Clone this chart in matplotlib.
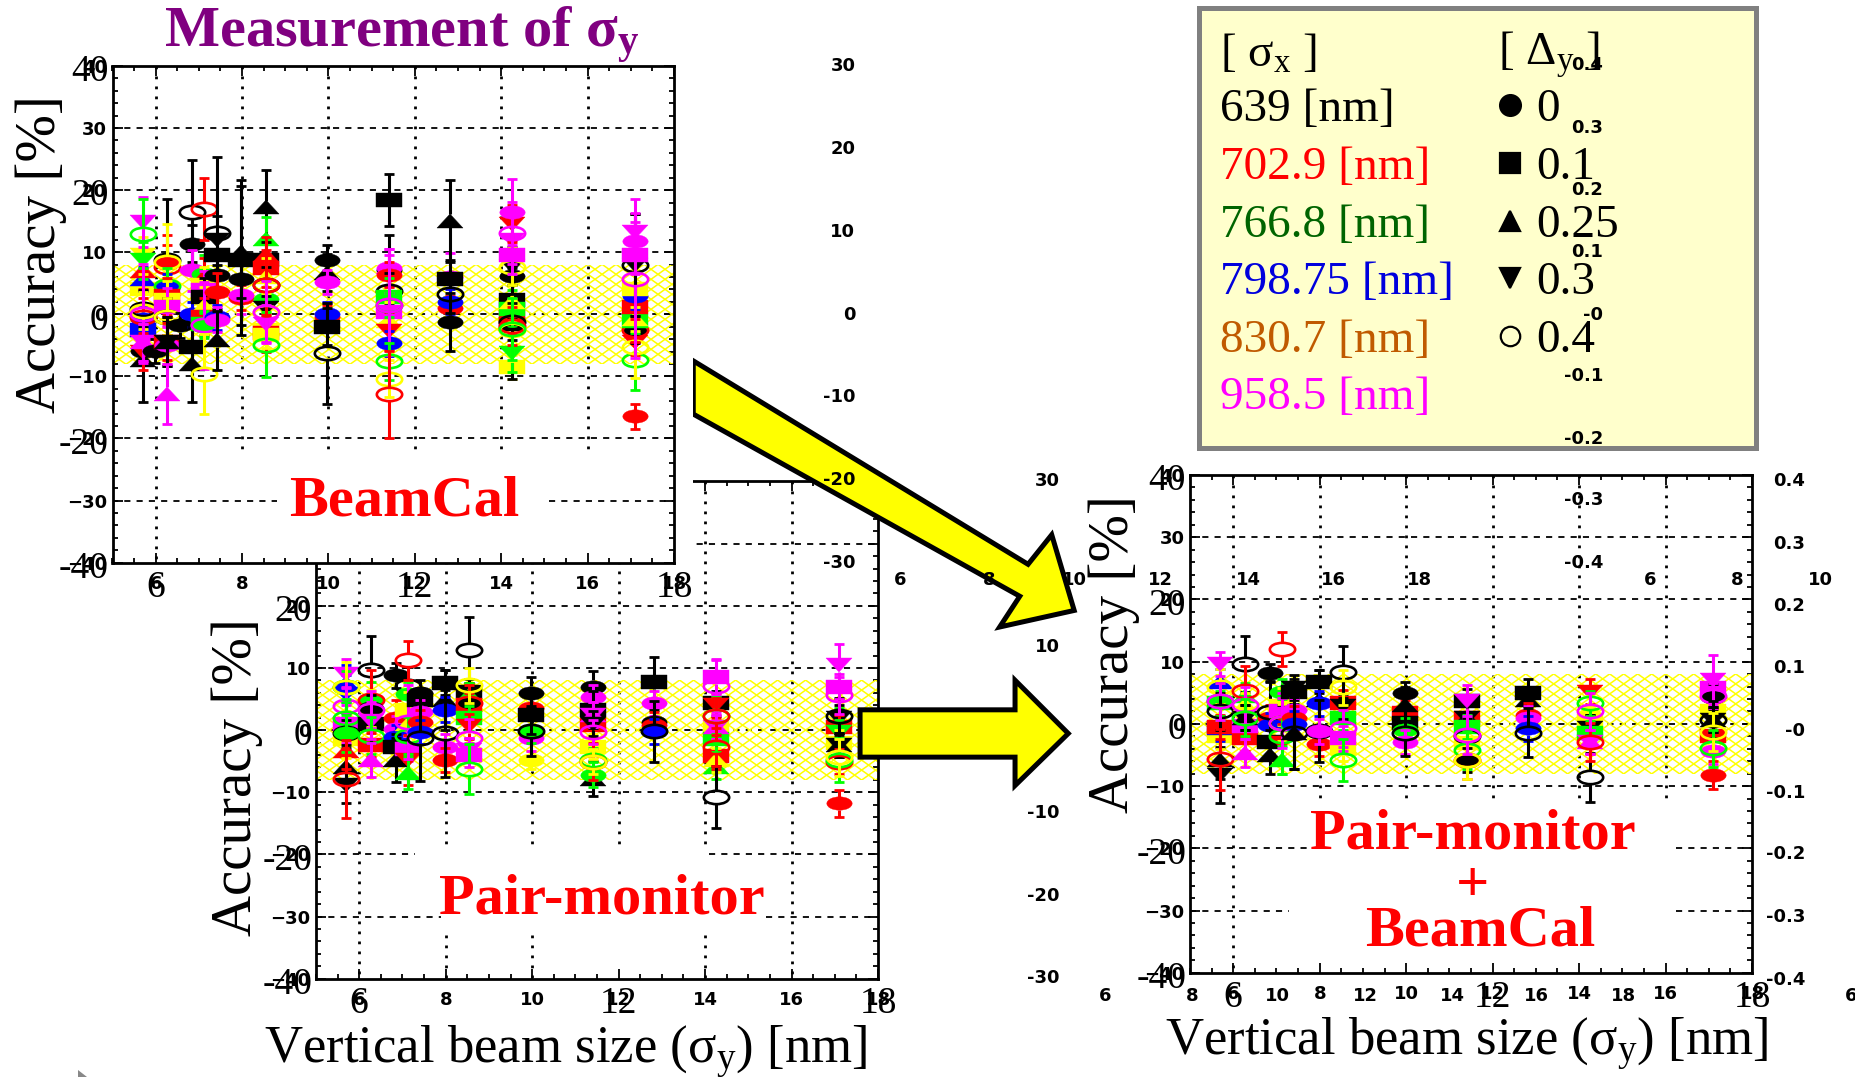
import matplotlib
matplotlib.use("Agg")
import matplotlib.pyplot as plt
from matplotlib.markers import MarkerStyle
from matplotlib.patches import Rectangle, Polygon
from matplotlib.transforms import Affine2D

W, H = 1855, 1077
S = 1855 / 1568  # the picture coordinates below are read at 1568 wide
plt.rcParams['font.family'] = ['Liberation Serif', 'DejaVu Sans']
plt.rcParams['mathtext.fontset'] = 'custom'
plt.rcParams['mathtext.rm'] = 'Liberation Serif'
plt.rcParams['mathtext.it'] = 'Liberation Serif'
plt.rcParams['mathtext.bf'] = 'Liberation Serif:bold'

SIGMA_X = [639, 702.9, 766.8, 798.75, 830.7, 958.5]
DELTA_Y = [0, 0.1, 0.25, 0.3, 0.4]
SIGMA_X_COLORS = ['black', '#ff0000', '#00ff00', '#0000ff', '#ffff00', '#ff00ff']
LEGEND_COLORS = ['black', '#ff0000', '#006400', '#0000dd', '#c05a00', '#ff00ff']
LEGEND_MARKS = ['o', 's', '^', 'v', 'o']
BAND = 8

# points are (sigma_x, delta_y, accuracy, error), in drawing order
BC_570 = [(639, .25, -7.4, 6.7), (639, 0, -5.9, 2), (830.7, .1, 4.1, 3), (798.75, .25, 5.7, 2),
          (702.9, .25, 7, 3), (798.75, .1, -2.6, 2), (798.75, 0, -0.7, 2), (702.9, .4, -0.4, 3),
          (639, .4, .9, 3), (830.7, .4, .6, 3), (702.9, .3, -6, 3), (830.7, .3, 9.5, 3),
          (766.8, .3, 8.7, 3), (958.5, .25, -4.5, 3), (958.5, .3, -4.5, 3), (958.5, .3, 14.9, 4),
          (766.8, .4, 13, 5.6), (958.5, .4, .1, 8)]
BC_597 = [(639, 0, -5.9, 2)]
BC_627 = [(639, .4, 8.7, 9.8), (702.9, .4, 7.7, 5), (702.9, 0, 8.2, 3), (830.7, .4, 8.4, 6.2),
          (798.75, 0, 4.5, 2), (766.8, .4, 4.5, 3), (702.9, .1, 2.9, 3), (830.7, .1, 2.3, 3),
          (958.5, .1, 1.2, 3), (639, .4, -.4, 3), (830.7, .4, -.4, 3), (702.9, .1, -4.4, 3),
          (958.5, 0, -5, 3), (639, .25, -4.4, 4), (639, .3, -4.4, 4), (958.5, .25, -12.8, 4.8)]
BC_656 = [(639, 0, -1.8, 2)]
BC_684 = [(639, .4, 16.4, 8.5), (639, 0, 11.4, 3), (798.75, 0, 0, 2), (958.5, 0, 7.1, 3.3),
          (639, .1, -5.2, 3), (639, .25, -8, 6.2)]
BC_712 = [(702.9, .4, 17, 5), (766.8, 0, 6.5, 3), (702.9, .25, 6, 3), (830.7, .1, 4.7, 3),
          (958.5, .1, 3.9, 3), (639, .1, 2.8, 3), (830.7, .25, 1.4, 3), (702.9, .1, -.4, 3),
          (766.8, .1, -1.5, 2), (766.8, .4, -1.8, 2), (958.5, .4, -1.8, 7), (830.7, .4, -9.6, 6.5)]
BC_741 = [(639, .4, 13.1, 12.3), (639, .3, 11.9, 4), (639, .1, 9.5, 3), (639, 0, 6.3, 3),
          (702.9, 0, 3.6, 3), (798.75, 0, -.5, 2), (958.5, 0, -.9, 2), (639, .25, -4.2, 4.8)]
BC_798 = [(702.9, 0, 2.7, 2), (958.5, 0, 3.1, 3), (639, 0, 5.7, 3), (639, .1, 8.7, 12),
          (639, .25, 10, 11.7)]
BC_855 = [(639, .25, 17.3, 6), (766.8, .25, 12.2, 3.5), (639, .1, 8.7, 3), (702.9, .25, 9.5, 3),
          (702.9, .1, 7.4, 3), (830.7, .25, 6, 3), (639, .4, 4.7, 3), (766.8, 0, 2.5, 3),
          (639, .3, 1, 2), (830.7, .1, -2.6, 3), (702.9, .1, -3, 3), (830.7, .1, -3.4, 2),
          (830.7, .4, .4, 3), (958.5, .3, -1.5, 3), (766.8, .4, -4.9, 5.2), (702.9, .4, 4.7, 5),
          (958.5, .4, .4, 5)]
BC_998 = [(639, 0, 8.7, 2.4), (639, .25, 6.7, 3), (958.5, 0, 5.2, 2), (702.9, 0, -.5, 2),
          (798.75, 0, 0, 2), (639, .1, -2, 3), (639, .4, -6.3, 8.2)]
BC_1140 = [(639, .1, 18.4, 4.2), (639, 0, 7.2, 5.5), (958.5, .25, 7.6, 3), (958.5, 0, 7.5, 3),
           (702.9, 0, 6.4, 2), (639, .4, 3.7, 3), (766.8, .1, 2.8, 3), (830.7, .25, -1, 3),
           (958.5, .1, .4, 3), (702.9, .3, -2.7, 3), (798.75, 0, -4.7, 2), (766.8, .4, 1.5, 2),
           (958.5, .4, 1.5, 8), (766.8, .4, -7.6, 3), (830.7, .4, -10.4, 3), (702.9, .4, -12.9, 7)]
BC_1283 = [(958.5, 0, 6, 3.8), (639, .1, 5.7, 3), (639, .25, 15.1, 6.6), (702.9, 0, 1, 2),
           (798.75, 0, 2, 2), (639, .4, 3.2, 3), (639, 0, -1.2, 4.7)]
BC_1425 = [(830.7, .1, -8.5, 2), (639, .1, -1.5, 9), (766.8, .3, -6.3, 3), (702.9, .1, -.4, 3),
           (639, .1, 2.3, 3), (766.8, .1, .9, 3), (830.7, .25, 2, 3), (639, 0, 6.2, 3),
           (639, .3, 7.8, 3), (830.7, .4, 7.7, 3), (958.5, .1, 9.5, 3), (958.5, .3, 11.9, 3),
           (702.9, .3, 14.6, 3), (958.5, 0, 16.5, 5.3), (958.5, .4, 13.1, 5), (639, .4, -1.2, 3),
           (702.9, .4, -1.9, 3), (830.7, .4, -2.5, 5), (766.8, .4, -2.3, 5)]
BC_1710 = [(702.9, 0, -16.4, 2), (766.8, .4, -7.3, 4.9), (702.9, .3, -4.5, 2), (830.7, .4, -5.3, 5),
           (639, 0, -2.6, 2), (702.9, .4, -2.5, 2), (766.8, .1, -1, 2), (830.7, .25, -.7, 2),
           (702.9, .1, 1.2, 2), (798.75, 0, 2.9, 2), (830.7, .1, 4.1, 3), (639, .3, 8, 8.2),
           (639, .4, 8, 8.2), (958.5, .1, 9.5, 3), (958.5, 0, 11.8, 3), (958.5, .3, 13.3, 3),
           (958.5, .4, 5.7, 12.8)]

PM_570 = [(639, .3, -8.8, 3), (639, .25, -5.9, 3), (702.9, .25, -3.3, 3), (830.7, .1, -1.5, 3),
          (798.75, .25, 7.5, 3), (798.75, .3, 5.8, 3), (958.5, .1, 1, 3), (958.5, .3, 9.1, 2.3),
          (766.8, .4, 7, 2.5), (830.7, .4, 7, 4), (958.5, .4, 3.9, 3), (766.8, .4, 2, 3),
          (639, .4, -.4, 2), (766.8, 0, -.5, 3), (702.9, .4, -7.9, 6.3)]
PM_627 = [(639, .4, 9.6, 5.5), (702.9, .1, -2.4, 2), (639, .1, 1, 3), (766.8, 0, 4.8, 3),
          (702.9, .4, 4.8, 4.8), (830.7, .25, 3.5, 3), (639, 0, 3.6, 2), (958.5, .3, 1.5, 3),
          (958.5, .4, 3.3, 3), (766.8, .4, -.9, 3), (958.5, .25, -4.8, 2.7)]
PM_684 = [(639, 0, 8.8, 2), (702.9, 0, 1.9, 3), (958.5, 0, .2, 2), (798.75, 0, -1.1, 2),
          (639, .1, -2.7, 2), (639, .25, -4.8, 3.6)]
PM_712 = [(639, .4, 7.1, 3), (766.8, 0, 5.8, 2), (830.7, .1, 3.2, 3), (830.7, .25, 1, 2),
          (958.5, .1, -3, 2), (702.9, .3, -4.8, 4), (766.8, .25, -6.9, 2.5), (702.9, .4, 11.2, 3.2),
          (766.8, .4, -.9, 3), (958.5, .4, 1.3, 6)]
PM_741 = [(639, 0, 6, 2), (639, .1, 4.8, 2), (958.5, 0, 2.9, 2), (702.9, 0, 1.3, 2),
          (798.75, 0, -.3, 2), (639, .4, -1.3, 6.9)]
PM_798 = [(639, .1, 7.6, 2), (639, .25, 4.8, 4.8), (798.75, 0, 3.3, 2), (958.5, 0, -2.7, 2),
          (702.9, 0, -4.8, 2), (639, .4, -.5, 7)]
PM_855 = [(639, .4, 12.9, 5.3), (639, .1, 6.2, 2), (766.8, .25, 5.6, 2), (702.9, .1, 4, 2),
          (639, 0, 4.3, 2), (702.9, .4, 4.3, 3), (766.8, .1, 1.9, 2), (702.9, .3, .6, 2),
          (830.7, .4, 7.2, 2.8), (958.5, .1, -4, 2), (958.5, .25, -3.2, 2), (958.5, .3, -3.2, 2),
          (958.5, .4, -1.2, 3), (766.8, .4, -6.3, 4)]
PM_998 = [(830.7, 0, -4.8, 1.5), (702.9, 0, 3.6, 2), (639, 0, 6, 2.5), (958.5, 0, -1.3, 2),
          (766.8, 0, -.1, 2), (639, .1, 2.4, 3), (639, .4, -.1, 4)]
PM_1140 = [(639, .25, -7.8, 2.8), (766.8, 0, -7.2, 2), (830.7, .1, -2.7, 2), (702.9, .1, .8, 2),
           (639, 0, 7, 2.5), (958.5, 0, 5.3, 2), (639, .1, 3.3, 3), (958.5, .25, 2.5, 2),
           (958.5, .3, 2.5, 2), (639, .3, 1, 2), (766.8, .4, -4.8, 2), (702.9, .4, -5.1, 3),
           (830.7, .4, -5.1, 2), (958.5, .4, -.3, 2)]
PM_1283 = [(639, .1, 7.7, 4), (958.5, 0, 4.3, 2), (639, 0, 1.3, 2), (702.9, 0, .9, 2),
           (798.75, 0, -.2, 2), (639, .4, -.2, 4.9)]
PM_1425 = [(766.8, .25, -5.9, 2), (702.9, .1, -4.2, 2), (830.7, .25, -4.8, 2), (639, .4, -10.7, 5),
           (639, .1, 4.3, 2), (702.9, .3, 4, 2), (830.7, .1, .5, 2), (766.8, .1, -1.5, 2),
           (958.5, .25, .5, 2), (958.5, .3, .5, 2), (702.9, .4, -2.7, 3), (958.5, .1, 8.5, 2.9),
           (958.5, .4, 7.1, 4.2), (766.8, .4, 2.3, 3), (702.9, .4, 2.2, 3)]
PM_1710 = [(702.9, 0, -11.8, 2.2), (766.8, .25, 1.5, 2), (639, .3, 2, 2), (702.9, .1, .5, 2),
           (766.8, .3, -.3, 2), (830.7, .1, -2, 2), (639, .25, -2.4, 2), (639, .3, -2.4, 2),
           (702.9, .4, -5.1, 2), (766.8, .4, -4.8, 3.6), (830.7, .4, -4.4, 3), (639, .4, 2.2, 3),
           (958.5, .1, 7, 2), (958.5, .3, 10.4, 3.4), (958.5, .4, 5.6, 3)]

SUM_570 = [(639, .3, -8.2, 4.5), (639, .25, -5.8, 3), (830.7, .1, -2, 2), (798.75, .1, -.7, 2),
           (702.9, .1, -.5, 2), (766.8, .1, 3.3, 2), (798.75, .25, 6.8, 2), (830.7, .4, 6, 2.8),
           (766.8, .4, 3.6, 3), (639, .4, 2, 3), (958.5, .4, 3.6, 3), (958.5, .3, 9.6, 1.9),
           (702.9, .4, -5.7, 4.9)]
SUM_627 = [(702.9, .1, -2.3, 2), (958.5, .1, -.4, 2), (639, .4, 9.6, 4.5), (766.8, .25, 4.5, 2),
           (702.9, .4, 5.3, 4), (830.7, .25, 3, 2), (639, .25, 1, 2), (639, .3, 1, 2),
           (958.5, .4, 3, 3), (766.8, .4, 1, 3), (958.5, .25, -4.7, 2.3)]
SUM_684 = [(639, 0, 8.2, 1.5), (702.9, 0, 1, 2), (798.75, 0, -.2, 2), (639, .4, 1.9, 5),
           (639, .1, -2.9, 2), (639, .25, -5, 3)]
SUM_712 = [(702.9, .4, 12, 2.7), (766.8, 0, 5.2, 2), (830.7, .1, 2.8, 3), (958.5, .1, 2, 3),
           (702.9, .3, -3, 3), (639, .4, .1, 3), (830.7, .4, .2, 3), (766.8, .25, -5.8, 2.2),
           (766.8, .4, -2, 6), (958.5, .4, .1, 4)]
SUM_741 = [(639, .1, 5.2, 2), (639, .3, 5.8, 2), (958.5, 0, 2.2, 2), (702.9, 0, .9, 2),
           (798.75, 0, 0, 2), (639, .25, -1.5, 5.8), (639, .4, -1.5, 5.8)]
SUM_798 = [(639, .1, 6.8, 1.8), (639, .25, 3.8, 4.8), (798.75, 0, 3.3, 2), (702.9, 0, -3.2, 2),
           (639, .4, -1.1, 5), (958.5, 0, -1.2, 2)]
SUM_855 = [(830.7, .1, -3.9, 2), (702.9, .1, 3.4, 2), (639, .4, 8.3, 4.2), (766.8, .1, 1, 2),
           (639, .3, 2.8, 2), (830.7, .4, 5.9, 2.8), (958.5, .1, -2.3, 2), (958.5, .4, -.7, 3),
           (766.8, .4, -5.8, 3.3)]
SUM_998 = [(702.9, .1, 1.8, 2), (639, 0, 4.9, 1.8), (639, .25, 3, 3), (639, .1, .1, 3),
           (766.8, 0, -1, 2), (958.5, 0, -2.9, 2), (639, .4, -1.4, 3.8)]
SUM_1140 = [(702.9, .1, 1, 2), (830.7, .1, -3, 2), (639, .1, 3.6, 2), (639, .25, .9, 2),
            (639, .3, .9, 2), (766.8, .1, -.5, 2), (958.5, .3, 3.6, 2.6), (639, .4, -2, 3),
            (766.8, .4, -4.2, 3), (639, 0, -5.8, 2), (702.9, .4, -5.8, 3), (830.7, .4, -5.8, 3),
            (958.5, .4, -1.8, 3)]
SUM_1283 = [(639, .25, 3.8, 2), (639, .1, 5, 2.2), (702.9, 0, 1.4, 2), (958.5, 0, .9, 2),
            (798.75, 0, -.7, 2), (639, .4, -1.4, 3.9)]
SUM_1425 = [(702.9, .3, 5.2, 2), (639, .4, -8.6, 4), (830.7, .25, 2.5, 2), (830.7, .1, .5, 2),
            (639, .25, -.6, 2), (639, .3, -.6, 2), (766.8, .1, -1.5, 2), (958.5, .25, -2.9, 2),
            (958.5, .3, -2.9, 2), (702.9, .4, -2.9, 3), (766.8, .4, 3.3, 2), (958.5, .4, 2, 3)]
SUM_1710 = [(702.9, 0, -8.2, 2.2), (830.7, .1, 2, 2), (702.9, .1, -2, 2), (766.8, .25, 6, 2),
            (958.5, .1, 5.7, 2), (639, 0, 4.4, 2), (958.5, .3, 7, 4), (958.5, .4, 4.5, 2),
            (639, .25, .7, 2), (639, .3, .7, 2), (639, .4, .7, 3), (958.5, 0, -4.4, 2),
            (766.8, .4, -3.9, 3), (830.7, .4, -1.3, 3)]

BEAMCAL = {5.7: BC_570, 5.985: BC_597, 6.27: BC_627, 6.555: BC_656, 6.84: BC_684, 7.125: BC_712,
           7.41: BC_741, 7.98: BC_798, 8.55: BC_855, 9.975: BC_998, 11.4: BC_1140, 12.825: BC_1283,
           14.25: BC_1425, 17.1: BC_1710}
PAIRMON = {5.7: PM_570, 6.27: PM_627, 6.84: PM_684, 7.125: PM_712, 7.41: PM_741, 7.98: PM_798,
           8.55: PM_855, 9.975: PM_998, 11.4: PM_1140, 12.825: PM_1283, 14.25: PM_1425, 17.1: PM_1710}
COMBINED = {5.7: SUM_570, 6.27: SUM_627, 6.84: SUM_684, 7.125: SUM_712, 7.41: SUM_741, 7.98: SUM_798,
            8.55: SUM_855, 9.975: SUM_998, 11.4: SUM_1140, 12.825: SUM_1283, 14.25: SUM_1425,
            17.1: SUM_1710}

X_TICKS = [6, 8, 10, 12, 14, 16, 18]
Y_TICKS = [-40, -30, -20, -10, 0, 10, 20, 30, 40]
BIG_X = [6, 12, 18]
BIG_Y = [-40, -20, 0, 20, 40]


def figx(px):
    return px / W


def figy(py):
    return 1 - py / H


def label(x, y, s, **kw):
    """x, y in the 1568-wide picture."""
    fig.text(figx(x * S), figy(y * S), s, **kw)


def small(x, y, s, ha='center'):
    label(x, y, s, ha=ha, va='center', fontsize=13, fontweight='bold',
          family='DejaVu Sans', color='black', zorder=6)


def marker_for(delta):
    base = {0: 'o', .1: 's', .25: '^', .3: 'v', .4: 'o'}[delta]
    return MarkerStyle(base, transform=Affine2D().scale(1.9, 1))


def add_axes(box, zorder):
    l, t, r, b = box
    ax = fig.add_axes([l / W, 1 - b / H, (r - l) / W, (b - t) / H], zorder=zorder)
    ax.set_xlim(5, 18)
    ax.set_ylim(-40, 40)
    ax.set_xticks(X_TICKS)
    ax.set_yticks(Y_TICKS)
    ax.set_xticks([5 + .5 * i for i in range(27)], minor=True)
    ax.set_yticks([-40 + 2 * i for i in range(41)], minor=True)
    for lab_set in (ax.get_xticklabels(), ax.get_yticklabels()):
        for t_ in lab_set:
            t_.set_fontfamily('DejaVu Sans')
            t_.set_fontweight('bold')
            t_.set_fontsize(13)
    ax.tick_params(which='major', direction='in', top=True, right=True, length=7.5, width=1.3)
    ax.tick_params(which='minor', direction='in', top=True, right=True, length=3.8, width=1.3)
    ax.tick_params(axis='x', which='major', pad=9)
    ax.tick_params(axis='y', which='major', pad=4)
    for sp in ax.spines.values():
        sp.set_linewidth(2)
        sp.set_zorder(60)
    return ax


def draw_band(ax):
    """Yellow cross-hatched band, cells about 14 x 10 pixels as in the reference."""
    bbox = ax.get_position()
    cell_x = 14 / (bbox.width * W) * 13
    cell_y = 10 / (bbox.height * H) * 80
    clip = Rectangle((5, -BAND), 13, 2 * BAND, transform=ax.transData)
    rise = 2 * BAND / cell_y * cell_x
    for i in range(-60, 60):
        x0 = 5 + i * cell_x
        for ya, yb in ((-BAND, BAND), (BAND, -BAND)):
            ln, = ax.plot([x0, x0 + rise], [ya, yb], color='#ffff00', lw=1.1, zorder=2)
            ln.set_clip_path(clip)
    ax.set_xlim(5, 18)
    ax.set_ylim(-40, 40)


def decorate(ax, vgrid, hgrid):
    for x, y0, y1 in vgrid:
        ax.plot([x, x], [y0, y1], color='black', lw=2, ls=(0, (1, 2.6)), zorder=1)
    for y, x0, x1 in hgrid:
        ax.plot([x0, x1], [y, y], color='black', lw=1.3, ls=(0, (3.4, 3.4)), zorder=1)
    draw_band(ax)
    for v in BIG_Y:
        ax.annotate(str(v), (5, v), xytext=(-4, -6), textcoords='offset pixels', ha='right',
                    va='center', fontsize=27, annotation_clip=False, zorder=50)
    for v in BIG_X:
        ax.annotate(str(v), (v, -40), xytext=(0, -25), textcoords='offset pixels', ha='center',
                    va='center', fontsize=27, annotation_clip=False, zorder=50)


def draw_points(ax, table):
    z = 3.0
    hw = 1.02  # half marker height, in percent: the error bar stops there
    for x, pts in table.items():
        for sx, d, y, e in pts:
            z += .01
            c = SIGMA_X_COLORS[SIGMA_X.index(sx)]
            opened = d == .4
            ax.plot([x], [y], ls='none', marker=marker_for(d), ms=9.6, mfc='none' if opened else c,
                    mec=c, mew=1.9 if opened else .3, zorder=z, clip_on=True)
            ax.vlines([x, x], [y + hw, y - e], [y + e, y - hw], colors=c, lw=2.2, zorder=z)
            ax.plot([x, x], [y + e, y - e], ls='none', marker='_', ms=6.5, mew=2, color=c, zorder=z)


fig = plt.figure(figsize=(W / 100, H / 100), dpi=100, facecolor='white')

ax1 = add_axes((112.5, 66, 674, 562.6), 3)
ax2 = add_axes((316, 481.5, 878, 978.7), 1)
ax3 = add_axes((1190, 475, 1752, 972.8), 1)

decorate(ax1,
         [(6, 40, -40), (8, 40, -22), (10, 40, -22), (12, 40, -22), (14, 40, -22), (16, 40, -22)],
         [(30, 5, 18), (20, 5, 18), (10, 5, 18), (0, 5, 18), (-10, 5, 18), (-20, 5, 18),
          (-30, 5, 8.8), (-30, 15.1, 18)])
decorate(ax2,
         [(6, 40, -40), (8, 40, -19), (8, -33, -40), (10, 40, -19), (10, -33, -40), (12, 40, -19),
          (14, 40, -19), (14, -33, -40), (16, 40, -40)],
         [(30, 5, 18), (20, 5, 18), (10, 5, 18), (0, 5, 18), (-10, 5, 18), (-20, 5, 7.3),
          (-20, 14.1, 18), (-30, 5, 7.9), (-30, 15.4, 18)])
decorate(ax3,
         [(6, 40, -40), (8, 40, -13), (10, 40, -13), (12, 40, -13), (14, 40, -13), (16, 40, -13)],
         [(30, 5, 18), (20, 5, 18), (10, 5, 18), (0, 5, 18), (-10, 5, 18), (-20, 5, 7.8),
          (-20, 16.25, 18), (-30, 5, 7.3), (-30, 16.25, 18)])

draw_points(ax1, BEAMCAL)
draw_points(ax2, PAIRMON)
draw_points(ax3, COMBINED)

# arrows (between the lower panels and the upper one)
arrow1 = [(586, 305), (869, 477), (889, 452), (908, 516), (845, 530), (862, 504), (586, 350)]
arrow2 = [(727, 600), (858, 600), (858, 575), (903, 620), (858, 664), (858, 640), (727, 640)]
for pts in (arrow1, arrow2):
    fig.add_artist(Polygon([(figx(x * S), figy(y * S)) for x, y in pts], closed=True,
                           transform=fig.transFigure, facecolor='#ffff00', edgecolor='black',
                           lw=3.6, zorder=1.5, joinstyle='miter'))
fig.add_artist(Rectangle((0, figy(563)), figx(693), 1 - figy(563), transform=fig.transFigure,
                         facecolor='white', edgecolor='none', zorder=2))

# legend box
fig.add_artist(Rectangle((figx(1199), figy(448)), figx(557), figy(8) - figy(448),
                         transform=fig.transFigure, facecolor='#ffffcc', edgecolor='#808080',
                         lw=3.6, zorder=4))
LEG_Y = [110, 168, 226, 283, 341, 398]
LEG_SX = ['639 [nm]', '702.9 [nm]', '766.8 [nm]', '798.75 [nm]', '830.7 [nm]', '958.5 [nm]']
LEG_D = ['0', '0.1', '0.25', '0.3', '0.4']
fig.text(figx(1220), figy(55), r'[ σ$_{\mathregular{x}}$ ]', fontsize=34, va='center', zorder=5)
fig.text(figx(1498), figy(55), r'[ Δ$_{\mathregular{y}}$ ]', fontsize=34, va='center', zorder=5)
for y, s, c in zip(LEG_Y, LEG_SX, LEGEND_COLORS):
    fig.text(figx(1220), figy(y), s, fontsize=34, va='center', color=c, zorder=5)
overlay = fig.add_axes([0, 0, 1, 1], zorder=5, facecolor='none')
overlay.set_xlim(0, W)
overlay.set_ylim(H, 0)
overlay.axis('off')
for i, (y, s, m) in enumerate(zip(LEG_Y, LEG_D, LEGEND_MARKS)):
    fig.text(figx(1536), figy(y), s, fontsize=34, va='center', color='black', zorder=5)
    overlay.plot([1510], [y - 5], ls='none', marker=m, ms=15 if i != 4 else 14,
                 mfc='black' if i != 4 else 'none', mec='black', mew=1.6)

# headings on the panels
label(340, 30, r'Measurement of σ$_{\mathbf{y}}$', ha='center', va='center', fontsize=42,
      fontweight='bold', color='#800080', zorder=6)
for x, y, s in [(341.5, 424, 'BeamCal'), (509, 760, 'Pair-monitor'), (1245, 705, 'Pair-monitor'),
                (1245, 750, '+'), (1251, 787, 'BeamCal')]:
    label(x, y, s, ha='center', va='center', fontsize=42, fontweight='bold', color='#ff0000', zorder=6)

# axis titles
for x, y in [(35, 215), (200, 657), (942, 553)]:
    label(x, y, 'Accuracy [%]', rotation=90, ha='center', va='center', fontsize=41, zorder=6)
for x, y in [(478, 889), (1240, 882)]:
    label(x, y, r'Vertical beam size (σ$_{\mathregular{y}}$) [nm]', ha='center', va='center',
          fontsize=38, zorder=6)

# stray tick labels left on the slide
for y, s in [(56, '30'), (126, '20'), (196, '10'), (266, '0'), (336, '-10'), (406, '-20'), (476, '-30')]:
    small(723, y, s, ha='right')
for y, s in [(407, '30'), (547, '10'), (687, '-10'), (757, '-20'), (827, '-30')]:
    small(896, y, s, ha='right')
for y, s in [(55, '0.4'), (108, '0.3'), (161, '0.2'), (213, '0.1'), (266, '-0'), (318, '-0.1'),
             (371, '-0.2'), (423, '-0.3'), (476, '-0.4')]:
    small(1355, y, s, ha='right')
for y, s in [(407, '0.4'), (460, '0.3'), (512, '0.2'), (565, '0.1'), (618, '-0'), (670, '-0.1'),
             (722, '-0.2'), (775, '-0.3'), (828, '-0.4')]:
    small(1526, y, s, ha='right')
for x, s in [(761, '6'), (836, '8'), (908, '10'), (981, '12'), (1055, '14'), (1127, '16'), (1200, '18'),
             (1395, '6'), (1468, '8'), (1539, '10')]:
    small(x, 490, s)
for x, s in [(934, '6'), (1008, '8'), (1080, '10'), (1154, '12'), (1228, '14'), (1299, '16'), (1372, '18'),
             (1565, '6')]:
    small(x, 842, s)

fig.add_artist(Polygon([(figx(78), figy(1070)), (figx(87), figy(1077)), (figx(78), figy(1077))],
                       transform=fig.transFigure, facecolor='#888888', edgecolor='none', zorder=6))

fig.savefig('out.png', dpi=100)
